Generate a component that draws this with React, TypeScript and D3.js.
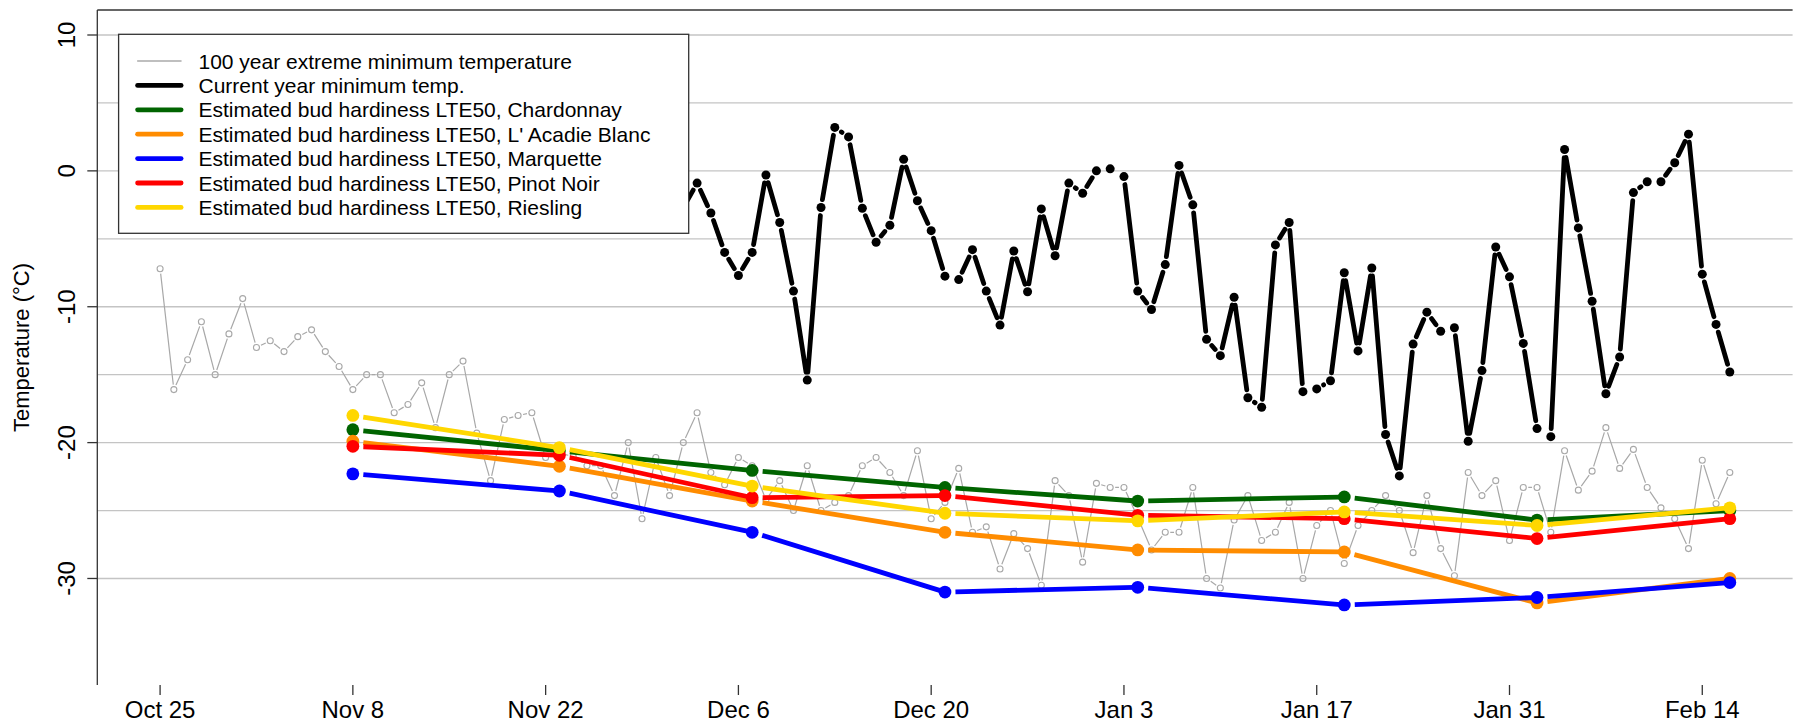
import React from 'react';
import * as d3 from 'd3';

const W = 1795;
const H = 724;
const PLOT = { left: 97.3, right: 1792.6, top: 10, bottom: 685 };
const FONT = '"Liberation Sans", Arial, Helvetica, sans-serif';

// x axis ticks
const xTickDates = ['2022-10-25', '2022-11-08', '2022-11-22', '2022-12-06', '2022-12-20', '2023-01-03', '2023-01-17', '2023-01-31', '2023-02-14'];
const xTickLabels = ['Oct 25', 'Nov 8', 'Nov 22', 'Dec 6', 'Dec 20', 'Jan 3', 'Jan 17', 'Jan 31', 'Feb 14'];
const yTicks = [10, 0, -10, -20, -30];
const yGrid = [10, 5, 0, -5, -10, -15, -20, -25, -30];
const yLimits = [-36, 10];

// 100 year extreme minimum temperature, daily from Oct 25
const extremeStart = '2022-10-25';
const extremeMin = [
  -7.2, -16.1, -13.9, -11.1, -15.0, -12.0, -9.4, -13.0, -12.5, -13.3,
  -12.2, -11.7, -13.3, -14.4, -16.1, -15.0, -15.0, -17.8, -17.2, -15.6,
  -18.9, -15.0, -14.0, -19.3, -22.8, -18.3, -18.0, -17.8, -21.1, -20.8,
  -21.0, -21.7, -21.7, -23.9, -20.0, -25.6, -21.1, -23.9, -20.0, -17.8,
  -22.2, -23.1, -21.1, -21.7, -24.2, -22.8, -25.0, -21.7, -25.0, -24.4,
  -23.9, -21.7, -21.1, -22.2, -23.9, -20.6, -25.6, -24.4, -21.9, -26.6,
  -26.2, -29.3, -26.7, -27.8, -30.5, -22.8, -23.9, -28.8, -23.0, -23.3,
  -23.3, -25.5, -27.9, -26.6, -26.6, -23.3, -30.0, -30.7, -25.7, -23.9,
  -27.2, -26.6, -24.4, -30.0, -26.1, -25.0, -28.9, -26.1, -25.0, -23.9,
  -25.0, -28.1, -23.9, -27.8, -29.8, -22.2, -23.9, -22.8, -27.2, -23.3,
  -23.3, -26.6, -20.6, -23.5, -22.1, -18.9, -21.9, -20.5, -23.3, -24.8,
  -25.6, -27.8, -21.3, -24.5, -22.2,
];

// current year minimum temperature, daily from Dec 2
const currentStart = '2022-12-02';
const currentMin = [
  -2.7,
  -0.9, -3.1, -6.0, -7.7, -6.0, -0.3, -3.8, -8.85, -15.4, -2.7,
  3.2, 2.5, -2.75, -5.25, -4.0, 0.85, -2.2, -4.4, -7.75, -8.0,
  -5.8, -8.85, -11.35, -5.9, -8.9, -2.8, -6.25, -0.9, -1.65, 0.0,
  0.15, -0.42, -8.85, -10.2, -6.9, 0.4, -2.5, -12.4, -13.6, -9.3,
  -16.7, -17.4, -5.45, -3.8, -16.25, -16.05, -15.45, -7.5, -13.25, -7.15,
  -19.4, -22.45, -12.75, -10.4, -11.8, -11.55, -19.9, -14.7, -5.6, -7.8,
  -12.7, -18.97, -19.56, 1.57, -4.2, -9.6, -16.4, -13.7, -1.6, -0.8,
  -0.8, 0.6, 2.7, -7.6, -11.3, -14.8,
];

// estimated bud hardiness LTE50
const hardinessDates = ['2022-11-08', '2022-11-23', '2022-12-07', '2022-12-21', '2023-01-04', '2023-01-19', '2023-02-02', '2023-02-16'];
const chardonnay = [-19.05, -20.6, -22.05, -23.3, -24.3, -24.0, -25.7, -25.0];
const lacadie = [-19.9, -21.74, -24.3, -26.6, -27.9, -28.05, -31.8, -30.0];
const marquette = [-22.3, -23.56, -26.6, -31.0, -30.65, -31.95, -31.4, -30.3];
const pinotNoir = [-20.27, -20.93, -24.05, -23.9, -25.35, -25.6, -27.06, -25.6];
const riesling = [-18.0, -20.37, -23.2, -25.2, -25.76, -25.1, -26.1, -24.8];

const hardinessSeries = [
  { name: 'Chardonnay', values: chardonnay, color: '#006400' },
  { name: "L' Acadie Blanc", values: lacadie, color: '#FF8C00' },
  { name: 'Marquette', values: marquette, color: '#0000FF' },
  { name: 'Pinot Noir', values: pinotNoir, color: '#FF0000' },
  { name: 'Riesling', values: riesling, color: '#FFD700' },
];

const legendItems = [
  { label: '100 year extreme minimum temperature', color: '#AAAAAA', width: 1.3 },
  { label: 'Current year minimum temp.', color: '#000000', width: 4.8 },
  ...hardinessSeries.map((s) => ({ label: `Estimated bud hardiness LTE50, ${s.name}`, color: s.color, width: 4.8 })),
];

const parse = d3.utcParse('%Y-%m-%d');
const DAY = 86400000;

function daily(start: string, values: number[]) {
  const t0 = parse(start)!.getTime();
  return values.map((v, i) => ({ date: new Date(t0 + i * DAY), value: v }));
}

type Pt = [number, number];

function gapSegments(pts: Pt[], g1: number, g2: number) {
  const segs: [Pt, Pt][] = [];
  for (let i = 0; i < pts.length - 1; i++) {
    const [x1, y1] = pts[i];
    const [x2, y2] = pts[i + 1];
    const dx = x2 - x1;
    const dy = y2 - y1;
    const d = Math.hypot(dx, dy);
    if (d <= g1 + g2) continue;
    segs.push([
      [x1 + (dx * g1) / d, y1 + (dy * g1) / d],
      [x2 - (dx * g2) / d, y2 - (dy * g2) / d],
    ]);
  }
  return segs;
}

export default function App() {
  const extreme = daily(extremeStart, extremeMin);
  const current = daily(currentStart, currentMin);
  const hDates = hardinessDates.map((d) => parse(d)!);

  const allDates = [...extreme.map((d) => d.date), ...current.map((d) => d.date), ...hDates];
  const [dMin, dMax] = d3.extent(allDates) as [Date, Date];
  const span = dMax.getTime() - dMin.getTime();
  const x = d3
    .scaleUtc()
    .domain([new Date(dMin.getTime() - 0.04 * span), new Date(dMax.getTime() + 0.04 * span)])
    .range([PLOT.left, PLOT.right]);

  const yr = yLimits[1] - yLimits[0];
  const y = d3
    .scaleLinear()
    .domain([yLimits[0] - 0.04 * yr, yLimits[1] + 0.04 * yr])
    .range([PLOT.bottom, PLOT.top]);

  const extremePts: Pt[] = extreme.map((d) => [x(d.date), y(d.value)]);
  const currentPts: Pt[] = current.map((d) => [x(d.date), y(d.value)]);

  const segPath = (segs: [Pt, Pt][]) => segs.map(([a, b]) => `M${a[0]},${a[1]}L${b[0]},${b[1]}`).join('');

  const legend = { x0: 118.6, x1: 688.7, y0: 34.3, y1: 233.3, lineX0: 137.6, lineX1: 181.1, textX: 198.5, rowY0: 61, rowStep: 24.4 };

  return (
    <div style={{ position: 'absolute', left: 0, top: 0 }}>
      <svg width={W} height={H} viewBox={`0 0 ${W} ${H}`} style={{ display: 'block', background: '#fff' }} fontFamily={FONT}>
        <rect x={0} y={0} width={W} height={H} fill="#fff" />
        {/* grid */}
        {yGrid.map((v) => (
          <line key={`g${v}`} x1={PLOT.left} x2={PLOT.right} y1={y(v)} y2={y(v)} stroke="#C4C4C4" strokeWidth={1.3} />
        ))}

        {/* 100 year extreme min */}
        <path d={segPath(gapSegments(extremePts, 5, 5))} stroke="#A8A8A8" strokeWidth={1.2} fill="none" />
        {extremePts.map(([px, py], i) => (
          <circle key={`e${i}`} cx={px} cy={py} r={3} fill="none" stroke="#A8A8A8" strokeWidth={1.1} />
        ))}

        {/* current year */}
        <path d={segPath(gapSegments(currentPts, 8, 8))} stroke="#000" strokeWidth={4.8} fill="none" strokeLinecap="round" />
        {currentPts.map(([px, py], i) => (
          <circle key={`c${i}`} cx={px} cy={py} r={4.5} fill="#000" />
        ))}

        {/* hardiness */}
        {hardinessSeries.map((s) => {
          const pts: Pt[] = s.values.map((v, i) => [x(hDates[i]), y(v)]);
          return (
            <g key={s.name}>
              <path d={segPath(gapSegments(pts, 10.5, 4))} stroke={s.color} strokeWidth={4.8} fill="none" />
              {pts.map(([px, py], i) => (
                <circle key={i} cx={px} cy={py} r={6.4} fill={s.color} />
              ))}
            </g>
          );
        })}

        {/* axes */}
        <line x1={PLOT.left} x2={PLOT.left} y1={PLOT.top} y2={PLOT.bottom} stroke="#333" strokeWidth={1.3} />
        <line x1={PLOT.left} x2={PLOT.right} y1={PLOT.top} y2={PLOT.top} stroke="#333" strokeWidth={1.3} />
        {yTicks.map((v) => (
          <g key={`yt${v}`}>
            <line x1={PLOT.left - 10} x2={PLOT.left} y1={y(v)} y2={y(v)} stroke="#333" strokeWidth={1.3} />
            <text transform={`translate(75,${y(v)}) rotate(-90)`} textAnchor="middle" fontSize={24} fill="#000">
              {v}
            </text>
          </g>
        ))}
        <text transform={`translate(29,${(PLOT.top + PLOT.bottom) / 2}) rotate(-90)`} textAnchor="middle" fontSize={22} fill="#000">
          Temperature (°C)
        </text>
        {xTickDates.map((d, i) => {
          const px = x(parse(d)!);
          return (
            <g key={d}>
              <line x1={px} x2={px} y1={PLOT.bottom} y2={PLOT.bottom + 10} stroke="#333" strokeWidth={1.3} />
              <text x={px} y={718} textAnchor="middle" fontSize={24} fill="#000">
                {xTickLabels[i]}
              </text>
            </g>
          );
        })}

        {/* legend */}
        <rect x={legend.x0} y={legend.y0} width={legend.x1 - legend.x0} height={legend.y1 - legend.y0} fill="#fff" stroke="#333" strokeWidth={1.3} />
        {legendItems.map((it, i) => {
          const ry = legend.rowY0 + i * legend.rowStep;
          return (
            <g key={it.label}>
              <line x1={legend.lineX0} x2={legend.lineX1} y1={ry} y2={ry} stroke={it.color} strokeWidth={it.width} strokeLinecap="round" />
              <text x={legend.textX} y={ry} dominantBaseline="central" fontSize={21} fill="#000">
                {it.label}
              </text>
            </g>
          );
        })}
      </svg>
    </div>
  );
}
